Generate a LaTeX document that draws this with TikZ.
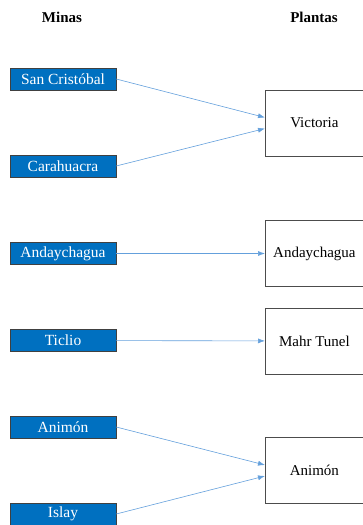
\documentclass[tikz,border=0pt]{standalone}
\usepackage{fontspec}
\setmainfont{Liberation Serif}
\usetikzlibrary{arrows.meta,positioning}
\definecolor{minablue}{RGB}{0,112,192}
\definecolor{flechablue}{RGB}{100,160,220}

\begin{document}
\begin{tikzpicture}[>={Latex[length=7pt,width=5pt]}, x=1pt, y=-1pt,
	mina/.style={draw=black!75, fill=minablue, text=white, minimum width=106pt, minimum height=22pt, inner sep=0pt, font=\fontsize{15.5}{17}\selectfont},
	planta/.style={draw=black!70, thick, fill=white, minimum width=100pt, minimum height=66pt, inner sep=0pt, anchor=west, font=\fontsize{15}{17}\selectfont},
	flecha/.style={flechablue, semithick, ->},
	titulo/.style={font=\bfseries\fontsize{15}{17}\selectfont}]
	\useasboundingbox (0,0) rectangle (362,525);

	% --- 1. TITLES ---
	\node[titulo] (tMinas) at (62,17) {Minas};
	\node[titulo] (tPlantas) at (314,17) {Plantas};

	% --- 2. MINES ---
	\node[mina] (sanCristobal) at (63,79) {San Cristóbal};
	\node[mina] (carahuacra) at (63,166) {Carahuacra};
	\node[mina] (andaychaguaM) at (63,253.5) {Andaychagua};
	\node[mina] (ticlio) at (63,340.5) {Ticlio};
	\node[mina] (animonM) at (63,427) {Animón};
	\node[mina] (islay) at (63,514) {Islay};

	% --- 3. PLANTS ---
	\node[planta] (victoria) at (265,123) {\hspace*{-2pt}Victoria};
	\node[planta] (andaychaguaP) at (265,253.5) {\hspace*{-2pt}Andaychagua};
	\node[planta] (mahr) at (265,341) {\hspace*{-2pt}Mahr Tunel};
	\node[planta] (animonP) at (265,470.5) {\hspace*{-2pt}Animón};

	% --- 4. ARROWS ---
	\draw[flecha] (sanCristobal.east) -- ([yshift=5.5pt]victoria.west);
	\draw[flecha] (carahuacra.east) -- ([yshift=-5.5pt]victoria.west);
	\draw[flecha] (andaychaguaM) -- (andaychaguaP);
	\draw[flecha] (ticlio) -- (mahr);
	\draw[flecha] (animonM.east) -- ([yshift=5.5pt]animonP.west);
	\draw[flecha] (islay.east) -- ([yshift=-5.5pt]animonP.west);
\end{tikzpicture}
\end{document}
